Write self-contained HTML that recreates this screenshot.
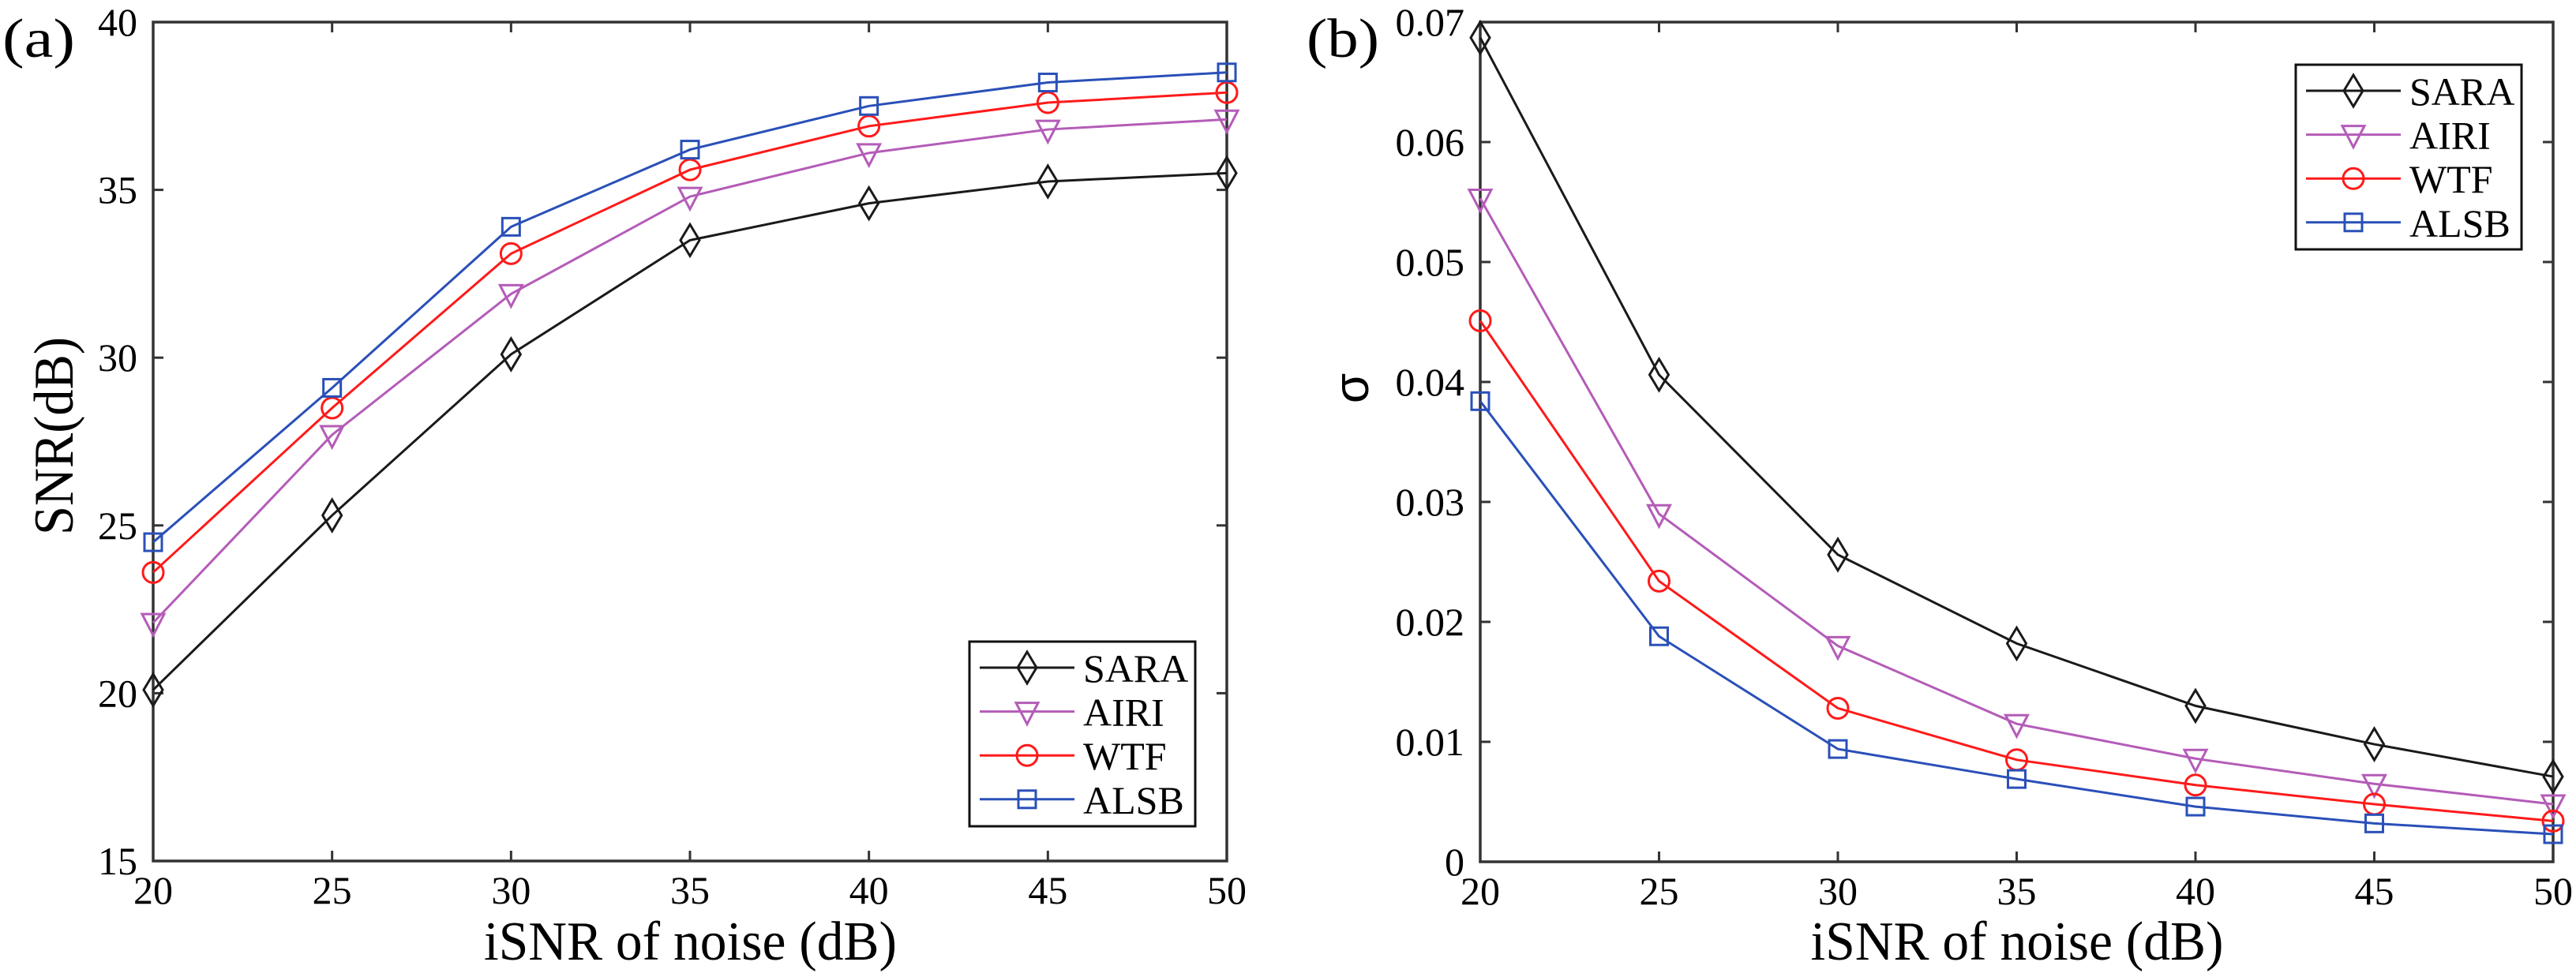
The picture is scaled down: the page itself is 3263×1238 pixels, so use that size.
<!DOCTYPE html>
<html><head><meta charset="utf-8"><style>
html,body{margin:0;padding:0;background:#fff;}
svg{display:block;font-family:"Liberation Serif",serif;}
</style></head><body>
<svg id="chart" width="3263" height="1238" viewBox="0 0 3263 1238" xmlns="http://www.w3.org/2000/svg"></svg>
<script>
const xCats = [20, 25, 30, 35, 40, 45, 50];
const seriesNames = ["SARA", "AIRI", "WTF", "ALSB"];
const snrSARA = [20.1, 25.3, 30.1, 33.5, 34.6, 35.25, 35.5];
const snrAIRI = [22.1, 27.7, 31.9, 34.8, 36.1, 36.8, 37.1];
const snrWTF  = [23.6, 28.5, 33.1, 35.6, 36.9, 37.6, 37.9];
const snrALSB = [24.5, 29.1, 33.9, 36.2, 37.5, 38.2, 38.5];
const sigSARA = [0.0687, 0.0406, 0.0256, 0.0182, 0.0130, 0.0098, 0.0071];
const sigAIRI = [0.0553, 0.0290, 0.0180, 0.0115, 0.0086, 0.0065, 0.0048];
const sigWTF  = [0.0451, 0.0234, 0.0128, 0.0085, 0.0064, 0.0048, 0.0034];
const sigALSB = [0.0384, 0.0188, 0.0094, 0.0069, 0.0046, 0.0032, 0.0023];
const yTicksA = [15, 20, 25, 30, 35, 40];
const yTicksB = [0, 0.01, 0.02, 0.03, 0.04, 0.05, 0.06, 0.07];
const yTickLabelsB = ["0", "0.01", "0.02", "0.03", "0.04", "0.05", "0.06", "0.07"];

const NS = "http://www.w3.org/2000/svg";
const svg = document.getElementById("chart");
const colors = ["#1a1a1a", "#b45cb8", "#ff1a1a", "#2a50b8"];
const markers = ["diamond", "tri", "circle", "square"];

function mk(tag, attrs, parent) {
  const e = document.createElementNS(NS, tag);
  for (const k in attrs) e.setAttribute(k, attrs[k]);
  (parent || svg).appendChild(e);
  return e;
}
function marker(g, type, x, y, c) {
  let e;
  if (type === "diamond") e = mk("path", {d: `M${x} ${y-20}L${x+12} ${y}L${x} ${y+20}L${x-12} ${y}Z`, fill: "none", stroke: c, "stroke-width": 3}, g);
  else if (type === "tri") e = mk("path", {d: `M${x-14} ${y-11}L${x+14} ${y-11}L${x} ${y+16}Z`, fill: "none", stroke: c, "stroke-width": 3}, g);
  else if (type === "circle") e = mk("circle", {cx: x, cy: y, r: 13, fill: "none", stroke: c, "stroke-width": 3}, g);
  else e = mk("rect", {x: x-11, y: y-11, width: 22, height: 22, fill: "none", stroke: c, "stroke-width": 3}, g);
  
  
}

function panel(opt) {
  const {L, R, T, B, ymin, ymax, yt, ytl, series, name, tag, tagX, leg} = opt;
  const g = mk("g", {});
  
  
  const xs = v => L + (v - xCats[0]) / (xCats[xCats.length-1] - xCats[0]) * (R - L);
  const ys = v => B - (v - ymin) / (ymax - ymin) * (B - T);
  xCats.forEach(v => {
    const x = xs(v);
    mk("line", {x1: x, y1: B, x2: x, y2: B-13, stroke: "#333", "stroke-width": 3}, g);
    mk("line", {x1: x, y1: T, x2: x, y2: T+13, stroke: "#333", "stroke-width": 3}, g);
    const t = mk("text", {x: x, y: B+54, "font-size": 50, "text-anchor": "middle"}, g);
    t.textContent = v;
    
    
  });
  yt.forEach((v, i) => {
    const y = ys(v);
    mk("line", {x1: L, y1: y, x2: L+13, y2: y, stroke: "#333", "stroke-width": 3}, g);
    mk("line", {x1: R, y1: y, x2: R-13, y2: y, stroke: "#333", "stroke-width": 3}, g);
    const t = mk("text", {x: L-20, y: y+17, "font-size": 50, "text-anchor": "end"}, g);
    t.textContent = ytl ? ytl[i] : v;
    
    
  });
  const frame = mk("rect", {x: L, y: T, width: R-L, height: B-T, fill: "none", stroke: "#333", "stroke-width": 3.5}, g);
  
  
  series.forEach((data, si) => {
    const sg = mk("g", {}, g);
    
    
    const pts = data.map((v, i) => xs(xCats[i]) + "," + ys(v)).join(" ");
    mk("polyline", {points: pts, fill: "none", stroke: colors[si], "stroke-width": 3}, sg);
    data.forEach((v, i) => marker(sg, markers[si], xs(xCats[i]), ys(v), colors[si]));
  });
  const cx = (L+R)/2;
  const xt = mk("text", {x: cx - 261, y: 1216, "font-size": 70, textLength: 523, lengthAdjust: "spacingAndGlyphs"}, g);
  xt.textContent = "iSNR of noise (dB)";
  
  
  const tg = mk("text", {x: tagX, y: 72, "font-size": 70, textLength: 92, lengthAdjust: "spacingAndGlyphs"}, g);
  tg.textContent = tag;
  
  
  const lg = mk("g", {}, g);
  
  
  mk("rect", {x: leg.x, y: leg.y, width: 286, height: 234, fill: "#fff", stroke: "#111", "stroke-width": 3}, lg);
  seriesNames.forEach((n, si) => {
    const ry = leg.y + 33 + si * 55.6;
    const eg = mk("g", {}, lg);
    
    
    mk("line", {x1: leg.x+13, y1: ry, x2: leg.x+133, y2: ry, stroke: colors[si], "stroke-width": 3}, eg);
    marker(eg, markers[si], leg.x+73, ry, colors[si]);
    const t = mk("text", {x: leg.x+144, y: ry+18, "font-size": 50}, eg);
    t.textContent = n;
  });
  return g;
}

const ga = panel({L: 194, R: 1554, T: 28, B: 1091, ymin: 15, ymax: 40, yt: yTicksA,
  series: [snrSARA, snrAIRI, snrWTF, snrALSB], name: "snr-chart",
  tag: "(a)", tagX: 3, leg: {x: 1228, y: 813}});
const yl = mk("text", {x: 0, y: 0, "font-size": 71, textLength: 251, lengthAdjust: "spacingAndGlyphs", transform: "translate(92 678) rotate(-90)"}, ga);
yl.textContent = "SNR(dB)";



const gb = panel({L: 1875, R: 3234, T: 28, B: 1092, ymin: 0, ymax: 0.07, yt: yTicksB, ytl: yTickLabelsB,
  series: [sigSARA, sigAIRI, sigWTF, sigALSB], name: "sigma-chart",
  tag: "(b)", tagX: 1655, leg: {x: 2908, y: 82}});
const yl2 = mk("text", {x: 0, y: 0, "font-size": 62, "text-anchor": "middle", "font-family": "Liberation Sans, sans-serif", transform: "translate(1733 492) rotate(-90)"}, gb);
yl2.textContent = "σ";


</script>
</body></html>
